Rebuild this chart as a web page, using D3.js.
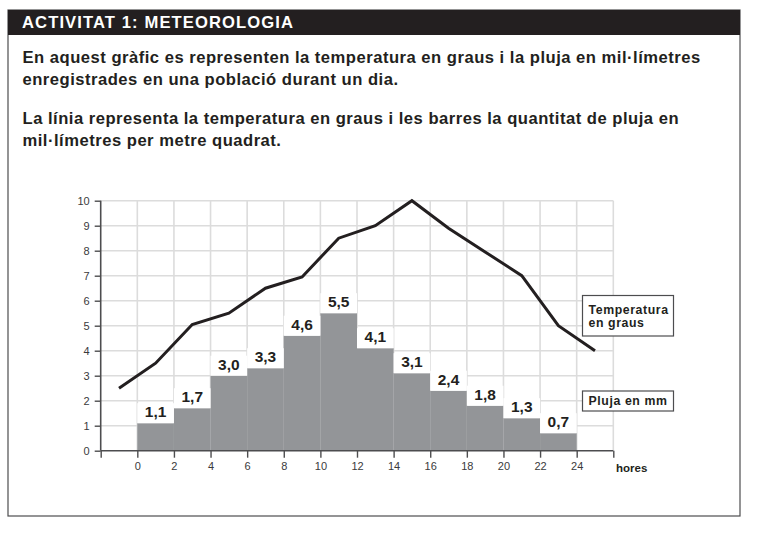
<!DOCTYPE html>
<html><head><meta charset="utf-8">
<script src="https://cdn.jsdelivr.net/npm/d3@7/dist/d3.min.js"></script>
<style>
html,body{margin:0;padding:0;background:#fff;}
svg{display:block;}
</style></head>
<body>
<svg id="c" width="760" height="535"></svg>
<script>
// ---- data ----
const title = "ACTIVITAT 1: METEOROLOGIA";
const paragraphLines = [
  "En aquest gràfic es representen la temperatura en graus i la pluja en mil·límetres",
  "enregistrades en una població durant un dia.",
  "La línia representa la temperatura en graus i les barres la quantitat de pluja en",
  "mil·límetres per metre quadrat."
];
const rainStart = [0, 2, 4, 6, 8, 10, 12, 14, 16, 18, 20, 22];
const rainValues = [1.1, 1.7, 3.0, 3.3, 4.6, 5.5, 4.1, 3.1, 2.4, 1.8, 1.3, 0.7];
const rainLabels = ["1,1","1,7","3,0","3,3","4,6","5,5","4,1","3,1","2,4","1,8","1,3","0,7"];
const tempHours = [-1, 1, 3, 5, 7, 9, 11, 13, 15, 17, 19, 21, 23, 25];
const tempValues = [2.5, 3.5, 5.05, 5.5, 6.5, 6.95, 8.5, 9.0, 10, 8.9, 7.95, 7.0, 5.0, 4.0];
const xTickValues = [-2, 0, 2, 4, 6, 8, 10, 12, 14, 16, 18, 20, 22, 24, 26];
const xTickLabels = ["", "0","2","4","6","8","10","12","14","16","18","20","22","24",""];
const yTickValues = [0,1,2,3,4,5,6,7,8,9,10];
const legendTemp = ["Temperatura", "en graus"];
const legendRain = "Pluja en mm";
const xAxisTitle = "hores";

// ---- drawing ----
const svg = d3.select("#c");
const dark = "#231f20";
const font = "'Liberation Sans', Arial, Helvetica, sans-serif";
const narrow = "'Liberation Sans Narrow', 'Liberation Sans', Arial, sans-serif";

// frame
svg.append("rect").attr("x", 8).attr("y", 10).attr("width", 732).attr("height", 506)
  .attr("fill", "none").attr("stroke", "#4d4d4f").attr("stroke-width", 1.2);
svg.append("rect").attr("x", 8).attr("y", 10).attr("width", 732).attr("height", 25)
  .attr("fill", dark);
svg.append("text").attr("x", 22).attr("y", 28.3).text(title)
  .attr("fill", "#fff").attr("font-family", font).attr("font-weight", "bold")
  .attr("font-size", 16.6).attr("letter-spacing", 1.1);

const lineY = [63, 85, 124, 146];
svg.selectAll("text.para").data(paragraphLines).join("text")
  .attr("class", "para")
  .attr("x", 22.5).attr("y", (d, i) => lineY[i])
  .attr("fill", dark).attr("font-family", font).attr("font-weight", "bold")
  .attr("font-size", 16.6).attr("letter-spacing", 0.5).text(d => d);

// scales
const x = d3.scaleLinear().domain([-2, 26]).range([100.7, 613.3]);
const y = d3.scaleLinear().domain([0, 10]).range([450.7, 200.7]);

const g = svg.append("g");

// grid
const gridColor = "#dcdcdc";
g.selectAll("line.vg").data(xTickValues.filter(v => v > -2)).join("line")
  .attr("x1", d => x(d)).attr("x2", d => x(d))
  .attr("y1", y(0)).attr("y2", y(10))
  .attr("stroke", gridColor).attr("stroke-width", 1.6);
g.selectAll("line.hg").data(yTickValues.filter(v => v > 0)).join("line")
  .attr("x1", x(-2)).attr("x2", x(26))
  .attr("y1", d => y(d)).attr("y2", d => y(d))
  .attr("stroke", gridColor).attr("stroke-width", 1.6);

// bars
g.selectAll("rect.bar").data(rainValues).join("rect")
  .attr("x", (d, i) => x(rainStart[i]))
  .attr("width", (d, i) => x(rainStart[i] + 2) - x(rainStart[i]))
  .attr("y", d => y(d))
  .attr("height", d => y(0) - y(d))
  .attr("fill", "#939598");

// label backgrounds
g.selectAll("rect.lblbg").data(rainValues).join("rect")
  .attr("x", (d, i) => x(rainStart[i]))
  .attr("width", (d, i) => x(rainStart[i] + 2) - x(rainStart[i]))
  .attr("y", d => y(d) - 20)
  .attr("height", 20)
  .attr("fill", "#fff");

g.selectAll("text.lbl").data(rainValues).join("text")
  .attr("x", (d, i) => x(rainStart[i] + 1))
  .attr("y", d => y(d) - 6)
  .attr("text-anchor", "middle")
  .attr("fill", dark).attr("font-family", font).attr("font-weight", "bold")
  .attr("font-size", 15.5)
  .text((d, i) => rainLabels[i]);

// axes
const xAxis = d3.axisBottom(x).tickValues(xTickValues)
  .tickFormat((d, i) => xTickLabels[i]).tickSize(7).tickPadding(5);
const xg = svg.append("g").attr("transform", `translate(0,${y(0)})`).call(xAxis);
xg.select(".domain").attr("stroke", "#4d4d4f").attr("stroke-width", 1.6)
  .attr("d", `M${x(-2)},0H${x(26)}`);
xg.selectAll(".tick line").attr("stroke", "#4d4d4f").attr("stroke-width", 1.4);
xg.selectAll(".tick text").attr("font-family", narrow).attr("font-size", 11)
  .attr("fill", "#3a3a3c");

const yAxis = d3.axisLeft(y).tickValues(yTickValues).tickFormat(d3.format("d"))
  .tickSize(6).tickPadding(5);
const yg = svg.append("g").attr("transform", `translate(${x(-2)},0)`).call(yAxis);
yg.select(".domain").attr("stroke", "#4d4d4f").attr("stroke-width", 1.6)
  .attr("d", `M0,${y(0)}V${y(10)}`);
yg.selectAll(".tick line").attr("stroke", "#4d4d4f").attr("stroke-width", 1.4);
yg.selectAll(".tick text").attr("font-family", narrow).attr("font-size", 11)
  .attr("fill", "#3a3a3c");

svg.append("text").attr("x", 616).attr("y", 471.5).text(xAxisTitle)
  .attr("fill", dark).attr("font-family", narrow).attr("font-weight", "bold")
  .attr("font-size", 11.5);

// temperature line
const line = d3.line().x((d, i) => x(tempHours[i])).y(d => y(d));
svg.append("path").datum(tempValues).attr("d", line)
  .attr("fill", "none").attr("stroke", dark).attr("stroke-width", 3)
  .attr("stroke-linejoin", "miter");

// legends
svg.append("rect").attr("x", 582.5).attr("y", 295.5).attr("width", 91).attr("height", 40.5)
  .attr("fill", "#fff").attr("stroke", "#4d4d4f").attr("stroke-width", 1.2);
svg.selectAll("text.lt").data(legendTemp).join("text")
  .attr("x", 588.5).attr("y", (d, i) => 314 + i * 13)
  .attr("fill", dark).attr("font-family", font).attr("font-weight", "bold")
  .attr("font-size", 12.3).attr("letter-spacing", 0.6).text(d => d);
svg.append("rect").attr("x", 582.5).attr("y", 391).attr("width", 91).attr("height", 20)
  .attr("fill", "#fff").attr("stroke", "#4d4d4f").attr("stroke-width", 1.2);
svg.append("text").attr("x", 588.5).attr("y", 405).text(legendRain)
  .attr("fill", dark).attr("font-family", font).attr("font-weight", "bold")
  .attr("font-size", 12.3).attr("letter-spacing", 0.6);
</script>
</body></html>
